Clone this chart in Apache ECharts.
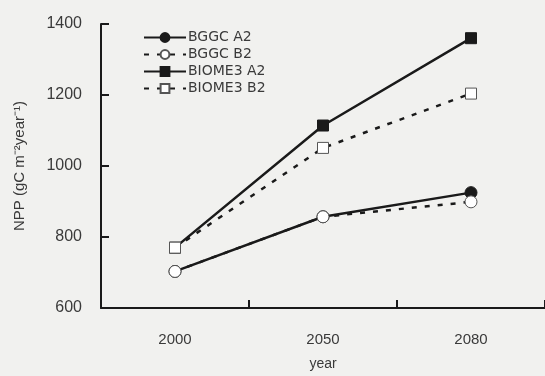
<!DOCTYPE html>
<html>
<head>
<meta charset="utf-8">
<script src="https://cdn.jsdelivr.net/npm/echarts@6/dist/echarts.min.js"></script>
<style>
  html, body { margin: 0; padding: 0; background: #f1f1ef; }
  #chart { width: 545px; height: 376px; }
</style>
</head>
<body>
<div id="chart"></div>
<script>
// datos
const years = ['2000', '2050', '2080'];
const bggcA2 = [703, 857, 925];
const bggcB2 = [703, 857, 899];
const biome3A2 = [770, 1114, 1360];
const biome3B2 = [770, 1051, 1204];
const yTicks = [600, 800, 1000, 1200, 1400];

const ink = '#1a1a1a';
const txt = '#3a3a3a';
const font = "'Liberation Sans', Arial, sans-serif";

function mkSeries(name, data, symbol, filled, dashed) {
    return {
        name: name,
        type: 'line',
        data: data,
        symbol: symbol,
        symbolSize: symbol === 'circle' ? 12 : 11,
        showAllSymbol: true,
        lineStyle: { color: ink, width: 2.5, type: dashed ? [5, 8] : 'solid' },
        itemStyle: filled
            ? { color: ink, borderColor: ink, borderWidth: 1 }
            : { color: '#ffffff', borderColor: '#555', borderWidth: 1 },
        z: filled ? 3 : 4
    };
}

const chart = echarts.init(document.getElementById('chart'));
chart.setOption({
    backgroundColor: '#f1f1ef',
    animation: false,
    textStyle: { fontFamily: font },
    grid: { left: 101, right: 0, top: 24, bottom: 64 },
    legend: {
        orient: 'vertical',
        left: 138,
        top: 25,
        itemWidth: 42,
        itemHeight: 11,
        itemGap: 2,
        textStyle: { color: txt, fontSize: 14, lineHeight: 15, fontFamily: "'DejaVu Sans', sans-serif", padding: [0, 0, 0, -3] },
        data: ['BGGC A2', 'BGGC B2', 'BIOME3 A2', 'BIOME3 B2']
    },
    xAxis: {
        type: 'category',
        data: years,
        boundaryGap: true,
        name: 'year',
        nameLocation: 'middle',
        nameGap: 49,
        nameTextStyle: { color: txt, fontSize: 14, fontFamily: font },
        axisLine: { lineStyle: { color: ink, width: 2 } },
        axisTick: { show: true, interval: 0, inside: true, length: 8, lineStyle: { color: ink, width: 2 } },
        axisLabel: { color: txt, fontSize: 15, margin: 24, fontFamily: font },
        splitLine: { show: false }
    },
    yAxis: {
        type: 'value',
        min: yTicks[0],
        max: yTicks[yTicks.length - 1],
        interval: 200,
        name: 'NPP (gC m⁻²year⁻¹)',
        nameLocation: 'middle',
        nameRotate: 90,
        nameGap: 74,
        nameTextStyle: { color: txt, fontSize: 15, fontFamily: font },
        axisLine: { show: true, lineStyle: { color: ink, width: 2 } },
        axisTick: { show: true, inside: true, length: 8, lineStyle: { color: ink, width: 2 } },
        axisLabel: { color: txt, fontSize: 16, margin: 19, fontFamily: font, formatter: v => String(v) },
        splitLine: { show: false }
    },
    series: [
        mkSeries('BGGC A2', bggcA2, 'circle', true, false),
        mkSeries('BGGC B2', bggcB2, 'circle', false, true),
        mkSeries('BIOME3 A2', biome3A2, 'rect', true, false),
        mkSeries('BIOME3 B2', biome3B2, 'rect', false, true)
    ]
});
</script>
</body>
</html>
